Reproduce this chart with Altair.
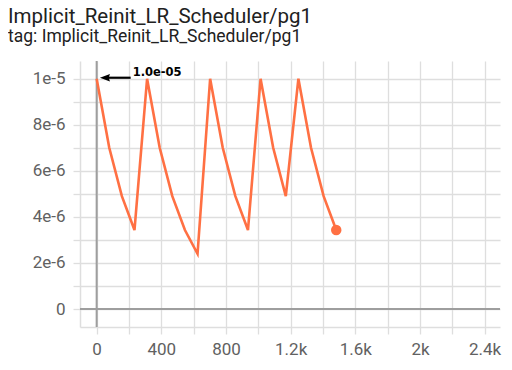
import altair as alt
import pandas as pd

# ---- data ----
steps = [0, 78, 156, 234, 312, 390, 468, 546, 624, 702, 780, 858, 936,
         1014, 1092, 1170, 1248, 1326, 1404, 1482]
values = [1e-5, 7e-6, 4.9e-6, 3.43e-6,
          1e-5, 7e-6, 4.9e-6, 3.43e-6, 2.401e-6,
          1e-5, 7e-6, 4.9e-6, 3.43e-6,
          1e-5, 7e-6, 4.9e-6,
          1e-5, 7e-6, 4.9e-6, 3.43e-6]

x_tick_values = [0, 200, 400, 600, 800, 1000, 1200, 1400, 1600, 1800, 2000, 2200, 2400]
x_tick_labels = ["0", "", "400", "", "800", "", "1.2k", "", "1.6k", "", "2k", "", "2.4k"]
y_tick_values = [0, 1e-6, 2e-6, 3e-6, 4e-6, 5e-6, 6e-6, 7e-6, 8e-6, 9e-6, 1e-5]
y_tick_labels = ["0", "", "2e-6", "", "4e-6", "", "6e-6", "", "8e-6", "", "1e-5"]

ann_x = [0]
ann_y = [1e-5]
ann_text = ["1.0e-05"]

title_text = "Implicit_Reinit_LR_Scheduler/pg1"
subtitle_text = "tag: Implicit_Reinit_LR_Scheduler/pg1"

x_domain = [-103, 2495]
y_domain = [-0.78e-6, 10.77e-6]

# ---- tables ----
df = pd.DataFrame({"step": steps, "value": values})
last = df.tail(1)
ann = pd.DataFrame({"step": ann_x, "value": ann_y, "text": ann_text})
zero = pd.DataFrame({"step": [0], "value": [0.0]})


def label_expr(vals, labels, scale=1.0):
    expr = "''"
    for v, l in zip(vals, labels):
        expr = f"(round(datum.value*{scale}) == {round(v * scale)}) ? '{l}' : ({expr})"
    return expr


GRID = "#dedede"
ZERO = "#9e9e9e"
ORANGE = "#ff7043"
LABEL = "#616161"

x_enc = alt.X(
    "step:Q",
    scale=alt.Scale(domain=x_domain, nice=False, zero=False),
    axis=alt.Axis(
        title=None,
        values=x_tick_values,
        labelExpr=label_expr(x_tick_values, x_tick_labels),
        grid=True,
    ),
)
y_enc = alt.Y(
    "value:Q",
    scale=alt.Scale(domain=y_domain, nice=False, zero=False),
    axis=alt.Axis(
        title=None,
        values=y_tick_values,
        labelExpr=label_expr(y_tick_values, y_tick_labels, 1e6),
        grid=True,
    ),
)

base = alt.Chart(df)

zero_x = alt.Chart(zero).mark_rule(color=ZERO, strokeWidth=2).encode(x=x_enc)
zero_y = alt.Chart(zero).mark_rule(color=ZERO, strokeWidth=2).encode(y=y_enc)

line = base.mark_line(color=ORANGE, strokeWidth=2.6).encode(x=x_enc, y=y_enc)
dot = alt.Chart(last).mark_circle(color=ORANGE, size=110, opacity=1).encode(x=x_enc, y=y_enc)

shaft = alt.Chart(ann).mark_rule(
    color="black", strokeWidth=2.2, xOffset=9, x2Offset=34, yOffset=-1
).encode(x=x_enc, x2="step:Q", y=y_enc)
head = alt.Chart(ann).mark_point(
    shape="M-1,0 L1,-0.75 L0.75,0 L1,0.75 Z", filled=True, color="black",
    opacity=1, size=100, xOffset=8.3, yOffset=-1, strokeWidth=0
).encode(x=x_enc, y=y_enc)
label = alt.Chart(ann).mark_text(
    align="left", baseline="alphabetic", dx=36, dy=-3,
    font="DejaVu Sans", fontSize=11.5, fontWeight="bold", color="black"
).encode(x=x_enc, y=y_enc, text="text:N")

chart = alt.layer(zero_x, zero_y, line, dot, shaft, head, label).properties(
    width=420,
    height=266,
    autosize=alt.AutoSizeParams(type="none"),
    padding={"left": 72, "top": 53, "right": 4, "bottom": 35},
    title=alt.TitleParams(
        text=title_text,
        subtitle=subtitle_text,
        anchor="start",
        frame="group",
        dx=-72,
        offset=15,
        font="Roboto",
        fontSize=20.5,
        fontWeight="normal",
        color="#212121",
        subtitleFont="Roboto",
        subtitleFontSize=17.5,
        subtitleColor="#212121",
        subtitlePadding=0,
    ),
).configure_view(stroke=None).configure_axis(
    gridColor=GRID,
    gridWidth=1.3,
    tickColor=GRID,
    tickWidth=1.3,
    tickSize=7,
    domainColor=GRID,
    domainWidth=1.5,
    labelFont="Roboto",
    labelFontSize=17,
    labelColor=LABEL,
    labelPadding=7,
).configure_axisY(labelPadding=8)

chart.save("out.html", embed_options={"renderer": "svg", "actions": False})
